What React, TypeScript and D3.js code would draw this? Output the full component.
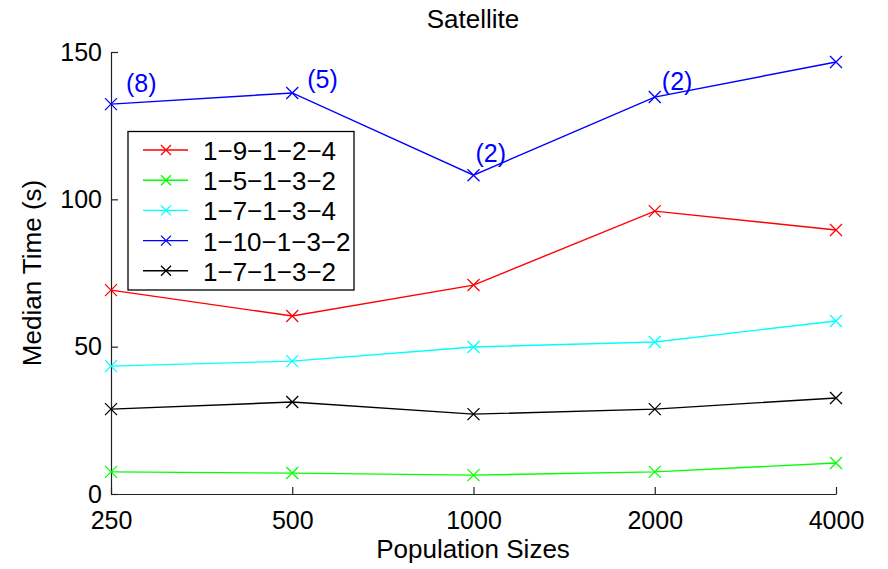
import React, { useEffect, useRef } from "react";
import * as d3 from "d3";

// population sizes on x, median time in seconds on y
const sizes = ["250", "500", "1000", "2000", "4000"];
const seriesNames = ["1\u22129\u22121\u22122\u22124", "1\u22125\u22121\u22123\u22122", "1\u22127\u22121\u22123\u22124", "1\u221210\u22121\u22123\u22122", "1\u22127\u22121\u22123\u22122"];
const seriesColors = ["#ff0000", "#00ff00", "#00ffff", "#0000ff", "#000000"];
const red = [69.2, 60.4, 70.9, 96.0, 89.6];
const green = [7.5, 7.1, 6.4, 7.5, 10.5];
const cyan = [43.4, 45.1, 49.9, 51.6, 58.7];
const blue = [132.3, 136.1, 108.2, 134.7, 146.6];
const black = [28.8, 31.2, 27.1, 28.8, 32.6];
const yTicks = [0, 50, 100, 150];
// run counts written next to some blue points (anchor: category + shift, time value)
const notes = [
  { size: "250", shift: 0.083, at: 136.4, text: "(8)" },
  { size: "500", shift: 0.083, at: 137.9, text: "(5)" },
  { size: "1000", shift: 0.011, at: 112.7, text: "(2)" },
  { size: "2000", shift: 0.039, at: 137.1, text: "(2)" }
];

const App = () => {
  const ref = useRef<SVGSVGElement>(null);

  useEffect(() => {
    const svg = d3.select(ref.current);
    svg.selectAll("*").remove();
    const font = "Liberation Sans, Arial, sans-serif";

    const x = d3.scalePoint().domain(sizes).range([111, 836]);
    const y = d3.scaleLinear().domain([0, 150]).range([494, 52]);

    const all = [red, green, cyan, blue, black];

    // axes: left and bottom only, ticks pointing in
    const xAxis = svg.append("g").attr("transform", "translate(0,494)")
      .call(d3.axisBottom(x).tickSizeInner(-7).tickSizeOuter(0));
    const yAxis = svg.append("g").attr("transform", "translate(111,0)")
      .call(d3.axisLeft(y).tickValues(yTicks).tickSizeInner(-7).tickSizeOuter(0));
    [xAxis, yAxis].forEach(a => {
      a.selectAll("path, line").attr("stroke", "#222").attr("stroke-width", 1.2);
      a.selectAll("text").style("font-family", font).style("font-size", "25px").attr("fill", "#000");
    });
    xAxis.selectAll("text").attr("dy", "0").attr("y", 35);
    yAxis.selectAll("text").attr("x", -9);

    const line = d3.line<number>().x((d, i) => x(sizes[i])!).y(d => y(d));

    const drawX = (g: any, cx: number, cy: number, color: string, s: number) => {
      g.append("path").attr("d", `M${cx - s},${cy - s}L${cx + s},${cy + s}M${cx - s},${cy + s}L${cx + s},${cy - s}`)
        .attr("stroke", color).attr("stroke-width", 1.3).attr("fill", "none");
    };

    all.forEach((vals, k) => {
      const g = svg.append("g");
      g.append("path").attr("d", line(vals)).attr("fill", "none").attr("stroke", seriesColors[k]).attr("stroke-width", 1.4);
      vals.forEach((v, i) => drawX(g, x(sizes[i])!, y(v), seriesColors[k], 6));
    });

    // annotations
    notes.forEach(n => {
      svg.append("text").attr("x", x(n.size)! + n.shift * x.step()).attr("y", y(n.at))
        .text(n.text).attr("fill", "#0000ff").style("font-family", font).style("font-size", "25px");
    });

    // legend
    const lg = svg.append("g");
    lg.append("rect").attr("x", 128).attr("y", 131.5).attr("width", 226).attr("height", 158.5)
      .attr("fill", "#fff").attr("stroke", "#000").attr("stroke-width", 1.3);
    seriesNames.forEach((name, k) => {
      const ly = 150 + k * 30.2;
      lg.append("line").attr("x1", 143).attr("x2", 188).attr("y1", ly).attr("y2", ly)
        .attr("stroke", seriesColors[k]).attr("stroke-width", 1.4);
      drawX(lg, 166, ly, seriesColors[k], 5);
      lg.append("text").attr("x", 203).attr("y", ly + 10).text(name)
        .style("font-family", font).style("font-size", "26px").attr("fill", "#000");
    });

    // titles
    svg.append("text").attr("x", 473).attr("y", 28).attr("text-anchor", "middle").text("Satellite")
      .style("font-family", font).style("font-size", "26px");
    svg.append("text").attr("x", 473).attr("y", 558).attr("text-anchor", "middle").text("Population Sizes")
      .style("font-family", font).style("font-size", "26px");
    svg.append("text").attr("transform", "translate(41,273) rotate(-90)").attr("text-anchor", "middle").text("Median Time (s)")
      .style("font-family", font).style("font-size", "26px");
  }, []);

  return <svg ref={ref} width={888} height={569} style={{ position: "absolute", left: 0, top: 0, background: "#fff" }} />;
};

export default App;
